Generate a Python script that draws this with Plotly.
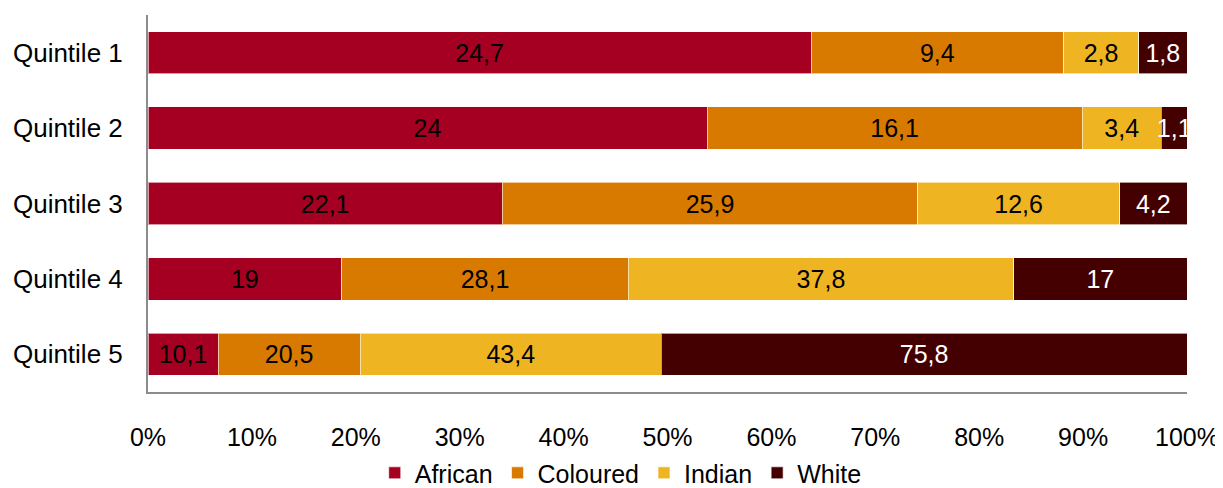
import plotly.graph_objects as go

categories = ["Quintile 1", "Quintile 2", "Quintile 3", "Quintile 4", "Quintile 5"]
african = [24.7, 24.0, 22.1, 19.0, 10.1]
coloured = [9.4, 16.1, 25.9, 28.1, 20.5]
indian = [2.8, 3.4, 12.6, 37.8, 43.4]
white = [1.8, 1.1, 4.2, 17.0, 75.8]
tick_vals = [0, 10, 20, 30, 40, 50, 60, 70, 80, 90, 100]
tick_text = [f"{v}%" for v in tick_vals]

series = [
    ("African", african, "#A50021", "black"),
    ("Coloured", coloured, "#D97A00", "black"),
    ("Indian", indian, "#EEB422", "black"),
    ("White", white, "#440000", "white"),
]

FS = 25

def fmt(v):
    s = f"{v:.1f}"
    if s.endswith(".0"):
        s = s[:-2]
    return s.replace(".", ",")

fig = go.Figure()
for name, vals, color, tcolor in series:
    fig.add_trace(go.Bar(
        name=name, y=categories, x=vals, orientation="h",
        marker=dict(color=color, line=dict(color="rgba(255,255,255,0.6)", width=1)),
        text=[fmt(v) for v in vals], textposition="inside", textangle=0,
        insidetextanchor="middle", constraintext="none",
        textfont=dict(color=tcolor, size=FS, family="Liberation Sans, Arial"),
        hoverinfo="skip",
    ))

fig.update_layout(
    barmode="stack", barnorm="percent", bargap=0.44,
    width=1223, height=488,
    margin=dict(l=140, r=44, t=7, b=104),
    paper_bgcolor="white", plot_bgcolor="white",
    font=dict(family="Liberation Sans, Arial", size=FS, color="black"),
    uniformtext=dict(mode="show", minsize=FS),
    xaxis=dict(range=[0, 100], tickvals=tick_vals, ticktext=tick_text,
               showgrid=False, zeroline=False, showline=True,
               linecolor="#8c8c8c", linewidth=2, ticks="",
               tickfont=dict(size=FS), automargin=False, ticklabelstandoff=22),
    yaxis=dict(autorange="reversed", showgrid=False, zeroline=False,
               showline=True, linecolor="#8c8c8c", linewidth=2, ticks="",
               tickfont=dict(size=26), automargin=False, ticklabelstandoff=18),
    legend=dict(orientation="h", x=0.455, xanchor="center",
                yref="container", y=0.047, yanchor="middle",
                font=dict(size=FS), traceorder="normal", itemclick=False,
                itemwidth=30),
    showlegend=True,
)

fig.write_html("out.html")
